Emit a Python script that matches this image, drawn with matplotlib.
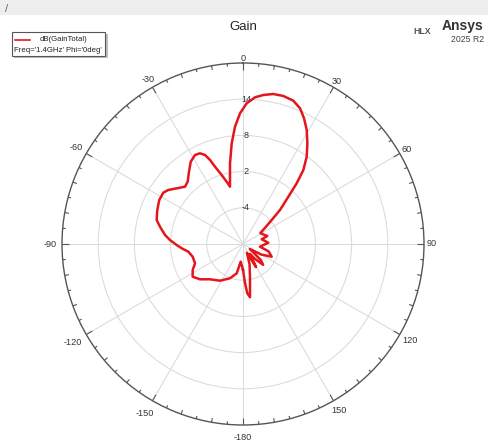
import numpy as np
import matplotlib
matplotlib.use("Agg")
import matplotlib.pyplot as plt
from matplotlib.patches import Rectangle
from matplotlib.lines import Line2D
from matplotlib.transforms import offset_copy

plt.rcParams["font.family"] = ["Liberation Sans", "DejaVu Sans"]

# Far-field gain cut, Freq = 1.4 GHz, Phi = 0 deg
theta_deg = [-180, -172.6, -167.9, -159.2, -147.9, -136.9, -129.4, -123.0, -117.3, -111.9,
             -104.2, -98.0, -94.0, -90.9, -86.9, -83.4, -78.2, -74.5, -68.4, -62.3,
             -57.2, -54.1, -50.0, -45.3, -41.6, -36.8, -32.4, -28.3, -25.4, -23.1,
             -21.4, -19.9, -17.2, -14.7, -12.8, -9.15, -6.4, -3.9, -1.3, 1.5,
             4.7, 7.8, 11.4, 15.2, 19.3, 22.8, 25.9, 29.2, 32.6, 36.1,
             39.2, 41.5, 43.8, 47.4, 50.1, 53.5, 57.8, 64.5, 71.8, 75.9,
             87.1, 99, 106, 113.9, 120, 126, 132, 136, 141, 145,
             150.5, 156, 162, 168, 172.5, 175, 177]
gain_db = [-5.7, -7.05, -5.03, -3.92, -2.82, -1.99, -0.78, -0.05, -0.62, -1.43,
           -1.4, -0.85, 0.19, 0.99, 2.12, 3.01, 4.06, 4.85, 5.28, 5.68,
           5.71, 5.28, 4.35, 3.51, 3.81, 4.95, 6.16, 6.76, 6.64, 6.04,
           4.95, 3.63, 1.97, 0.67, -0.26, 3.54, 6.79, 9.49, 11.67, 13.32,
           14.40, 14.93, 15.36, 15.43, 15.18, 14.40, 13.16, 11.65, 9.8, 7.92,
           5.83, 3.43, 0.86, -1.67, -3.8, -5.4, -6.6, -6.3, -5.76, -6.8,
           -5.8, -7.15, -5.6, -4.8, -6.5, -8.6, -6.0, -5.2, -6.8, -8.0,
           -5.6, -8.4, -6.5, -4.4, -1.1, -1.8, -3.5]

r_min, r_max = -10, 20
ring_values = [-4, 2, 8, 14]
spoke_angles = list(range(0, 360, 30))
spoke_labels = ["0", "30", "60", "90", "120", "150", "-180",
                "-150", "-120", "-90", "-60", "-30"]
# distance of each angle label from the centre, in pixels
label_dist_px = [186, 188, 189, 189, 193, 192, 193, 196, 197, 193, 193, 190]

W, H = 488, 441
fig = plt.figure(figsize=(W / 100, H / 100), dpi=100)
fig.patch.set_facecolor("white")


def fx(x):
    return x / W


def fy(y):
    return 1 - y / H


# light band along the top edge
fig.add_artist(Rectangle((0, fy(15)), 1, 15 / H, transform=fig.transFigure,
                         facecolor="#eeeeee", edgecolor="none"))
fig.text(fx(7), fy(9), "/", fontsize=8, color="#666666", ha="center", va="center")

# polar axes: center (243, 244) px, radius 181 px
cx, cy, rad = 243, 244, 181
ax = fig.add_axes([fx(cx - rad), fy(cy + rad), 2 * rad / W, 2 * rad / H],
                  projection="polar")
ax.set_facecolor("white")
ax.set_theta_zero_location("N")
ax.set_theta_direction(-1)
ax.set_thetagrids(spoke_angles, [""] * len(spoke_angles))
ax.tick_params(axis="x", length=0)
ax.set_rticks(ring_values)
ax.set_yticklabels([])
ax.grid(True, color="#dadada", lw=0.75)
ax.spines["polar"].set_color("#555555")
ax.spines["polar"].set_linewidth(1.0)

# tick marks around the rim every 5 degrees
for a in range(0, 360, 5):
    if a % 30 == 0:
        L = 1.15
    elif a % 10 == 0:
        L = 0.7
    else:
        L = 0.5
    ax.plot([np.deg2rad(a)] * 2, [r_max - L, r_max], color="#555555",
            lw=0.8, solid_capstyle="butt", zorder=3)

# angle labels outside the rim
for a, lab, d in zip(spoke_angles, spoke_labels, label_dist_px):
    t = np.deg2rad(a)
    ax.text(0.5 + d / (2 * rad) * np.sin(t), 0.5 + d / (2 * rad) * np.cos(t), lab,
            transform=ax.transAxes, ha="center", va="center", fontsize=6.6,
            color="#333333", clip_on=False)

# radial value labels along the 0-degree spoke
lab_tr = offset_copy(ax.transData, fig=fig, x=3, y=0, units="dots")
for v in ring_values:
    ax.text(0, v, str(v), transform=lab_tr, ha="center", va="center",
            fontsize=6.6, color="#333333", zorder=4)

th = np.deg2rad(theta_deg + [theta_deg[0]])
gv = gain_db + [gain_db[0]]
ax.plot(th, gv, color="#e4161c", lw=1.8, zorder=5, solid_joinstyle="round")
ax.set_ylim(r_min, r_max)

# title and branding
fig.text(fx(243), fy(27), "Gain", fontsize=9.5, ha="center", va="center",
         color="#222222")
fig.text(fx(413), fy(32), "HLX", fontsize=6.3, ha="left", va="center",
         color="#555555", fontweight="bold")
fig.text(fx(442), fy(26), "Ansys", fontsize=10, ha="left", va="center",
         color="#333333", fontweight="bold")
fig.text(fx(451), fy(39.5), "2025 R2", fontsize=6.3, ha="left", va="center",
         color="#444444")

# legend box with drop shadow
fig.add_artist(Rectangle((fx(14), fy(58)), (106 - 12) / W, (58 - 34) / H,
                         transform=fig.transFigure, facecolor="#bdbdbd",
                         edgecolor="none"))
fig.add_artist(Rectangle((fx(11.5), fy(55.5)), (105 - 11.5) / W, (55.5 - 31.5) / H,
                         transform=fig.transFigure, facecolor="white",
                         edgecolor="#555555", lw=0.8))
fig.add_artist(Line2D([fx(15), fx(30)], [fy(39.5), fy(39.5)],
                      transform=fig.transFigure, color="#e4161c", lw=1.2))
fig.text(fx(40), fy(39.5), "dB(GainTotal)", fontsize=5.6, ha="left",
         va="center", color="#222222")
fig.text(fx(13.5), fy(50), "Freq='1.4GHz' Phi='0deg'", fontsize=5.6,
         ha="left", va="center", color="#222222")

fig.savefig("out.png", dpi=100)
